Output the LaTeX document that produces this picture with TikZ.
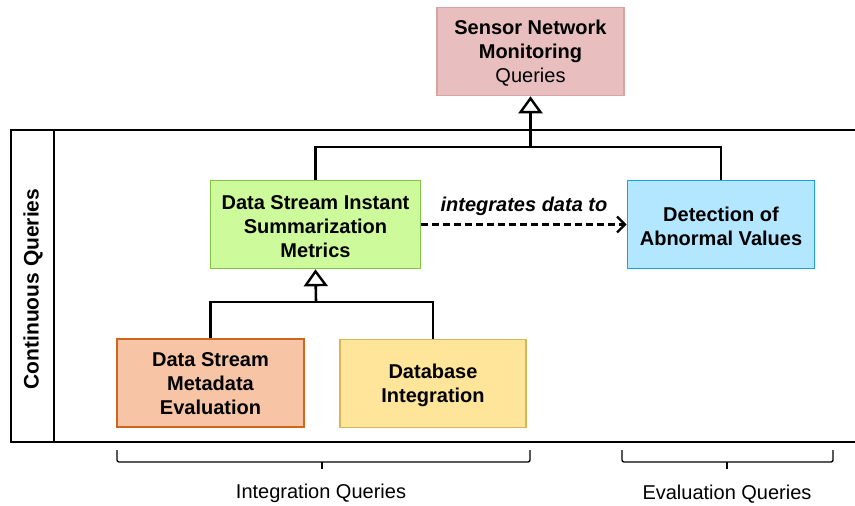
\documentclass[tikz,border=0pt]{standalone}
\usepackage{fontspec}
\setmainfont{Liberation Sans}
\usetikzlibrary{arrows.meta}
\definecolor{pinkF}{HTML}{E8BEBE}\definecolor{pinkD}{HTML}{D9A3A3}
\definecolor{greenF}{HTML}{CDFA9A}\definecolor{greenD}{HTML}{82C341}
\definecolor{blueF}{HTML}{B3E6FF}\definecolor{blueD}{HTML}{1BA1E2}
\definecolor{orangeF}{HTML}{F7C4A5}\definecolor{orangeD}{HTML}{D0661E}
\definecolor{yellowF}{HTML}{FFE599}\definecolor{yellowD}{HTML}{D6B656}
\newcommand{\dnlines}[2][-2.5pt]{\raisebox{#1}[\height][\depth]{\begin{tabular}{@{}c@{}}#2\end{tabular}}}
\begin{document}
\begin{tikzpicture}[x=1pt,y=-1pt,
  every node/.style={font=\fontsize{20pt}{24pt}\selectfont},
  box/.style={draw, line width=1.6pt, minimum width=#1, minimum height=88pt, inner sep=0pt},
  conn/.style={line width=2.6pt, line join=miter},
  gen/.style={conn, -{Triangle[open, length=17pt, width=24pt, line width=2.4pt]}},
  brace/.style={line width=1.3pt, rounded corners=2pt}]
\useasboundingbox (0,0) rectangle (855,506);
% pool
\draw[line width=2.4pt] (858,130) -- (11,130) -- (11,442) -- (858,442);
\draw[line width=2.4pt] (54,130) -- (54,442);
\node[rotate=90, font=\fontsize{21pt}{24pt}\selectfont\bfseries] (pooltitle) at (33,289) {Continuous Queries};
% nodes
\node[box=187pt, fill=pinkF, draw=pinkD] (sensor) at (530.5,51.5) {\dnlines{\textbf{Sensor Network}\\\textbf{Monitoring}\\Queries}};
\node[box=210pt, fill=greenF, draw=greenD, font=\fontsize{20pt}{24pt}\selectfont\bfseries] (summ) at (315.5,224.5) {\dnlines[-4.5pt]{Data Stream Instant\\Summarization\\Metrics}};
\node[box=187pt, fill=blueF, draw=blueD, font=\fontsize{20pt}{24pt}\selectfont\bfseries] (detect) at (721,224.5) {\dnlines[-4.5pt]{Detection of\\Abnormal Values}};
\node[box=187pt, fill=orangeF, draw=orangeD, font=\fontsize{20pt}{24pt}\selectfont\bfseries] (meta) at (210.5,383) {\dnlines{Data Stream\\Metadata\\Evaluation}};
\node[box=186pt, fill=yellowF, draw=yellowD, font=\fontsize{20pt}{24pt}\selectfont\bfseries] (dbint) at (433,383.5) {\dnlines{Database\\Integration}};
% connectors
\coordinate (j1) at (530.5,147);
\draw[conn] (summ.north) |- (j1) -| (detect.north);
\draw[gen] (j1) -- (sensor.south);
\coordinate (j2) at (316,302);
\draw[conn] (meta.north) |- (j2) -| (dbint.north);
\draw[gen] (j2) -- (summ.south);
\draw[line width=2.2pt, dash pattern=on 7pt off 4pt, -{Straight Barb[length=8pt, width=16pt, line width=2.4pt]}] (summ.east) -- node[above=4pt, font=\fontsize{20pt}{24pt}\selectfont\bfseries\itshape] (lbl) {integrates data to} (detect.west);
% braces
\draw[brace] (117,450) -- (117,462) -- (530,462) -- (530,450);
\draw[brace, line width=2pt] (322,462) -- (322,469);
\node (intq) at (321,493) {Integration Queries};
\draw[brace] (622,450) -- (622,462) -- (833,462) -- (833,450);
\draw[brace, line width=2pt] (727,462) -- (727,469);
\node (evq) at (727,494) {Evaluation Queries};
\end{tikzpicture}
\end{document}
